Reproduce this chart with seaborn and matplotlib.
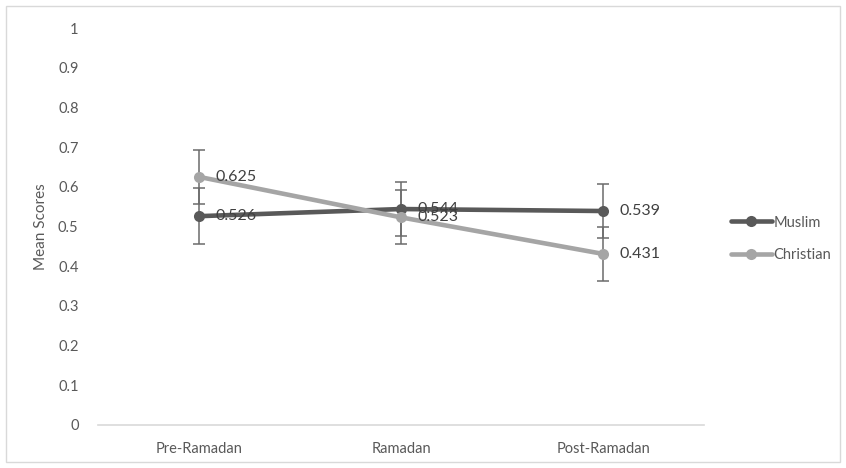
import matplotlib
matplotlib.use("Agg")
import matplotlib.pyplot as plt
import numpy as np
import pandas as pd
import seaborn as sns
from matplotlib.patches import Rectangle

# data
periods = ["Pre-Ramadan", "Ramadan", "Post-Ramadan"]
muslim = [0.526, 0.544, 0.539]
christian = [0.625, 0.523, 0.431]
muslim_err = [0.070, 0.067, 0.068]
christian_err = [0.068, 0.068, 0.068]
yticks = [0, 0.1, 0.2, 0.3, 0.4, 0.5, 0.6, 0.7, 0.8, 0.9, 1]
ytick_labels = ["0", "0.1", "0.2", "0.3", "0.4", "0.5", "0.6", "0.7", "0.8", "0.9", "1"]

df = pd.DataFrame({
    "period": periods * 2,
    "x": list(range(len(periods))) * 2,
    "score": muslim + christian,
    "err": muslim_err + christian_err,
    "group": ["Muslim"] * 3 + ["Christian"] * 3,
})

sns.set_style("white")
plt.rcParams["font.family"] = ["Lato", "DejaVu Sans"]
text_col = "#595959"
palette = {"Muslim": "#595959", "Christian": "#A5A5A5"}

fig = plt.figure(figsize=(8.46, 4.68), dpi=100)
ax = fig.add_axes([98 / 846, 1 - 425 / 468, 606 / 846, 397 / 468])

# error bars under the lines
for g in ["Muslim", "Christian"]:
    d = df[df.group == g]
    ax.errorbar(d.x, d.score, yerr=d.err, fmt="none", ecolor="#6b6b6b",
                elinewidth=1.1, capsize=4, capthick=1.1, zorder=1)

sns.lineplot(data=df, x="x", y="score", hue="group", palette=palette,
             marker="o", markersize=8, markeredgewidth=0, linewidth=3.3,
             ax=ax, zorder=3)

for _, r in df.iterrows():
    ax.annotate(f"{r.score:.3f}", (r.x, r.score), xytext=(12, 0),
                textcoords="offset points", va="center", ha="left",
                fontsize=11.5, color="#404040", zorder=4)

ax.set_xlim(-0.5, 2.5)
ax.set_ylim(0, 1)
ax.set_xticks(range(len(periods)))
ax.set_xticklabels(periods)
ax.set_yticks(yticks)
ax.set_yticklabels(ytick_labels)
ax.tick_params(axis="both", length=0, labelsize=10.5, colors=text_col)
ax.tick_params(axis="y", pad=14)
ax.tick_params(axis="x", pad=12)
ax.set_xlabel("")
ax.set_ylabel("Mean Scores", fontsize=11, color=text_col)
ax.yaxis.set_label_coords(-50 / 606, 0.5)

for s in ["top", "right", "left"]:
    ax.spines[s].set_visible(False)
ax.spines["bottom"].set_color("#D9D9D9")
ax.spines["bottom"].set_linewidth(1.2)

leg = ax.legend(loc="center left", bbox_to_anchor=(731 / 846, 1 - 239 / 468),
                bbox_transform=fig.transFigure, frameon=False, fontsize=10.5,
                handlelength=2.8, handletextpad=0.1, labelspacing=1.3,
                borderpad=0, borderaxespad=0)
for t in leg.get_texts():
    t.set_color(text_col)

fig.patches.append(Rectangle((6 / 846, 6 / 468), 834 / 846, 456 / 468,
                             transform=fig.transFigure, fill=False,
                             edgecolor="#D9D9D9", linewidth=1))

fig.savefig("out.png", dpi=100)
